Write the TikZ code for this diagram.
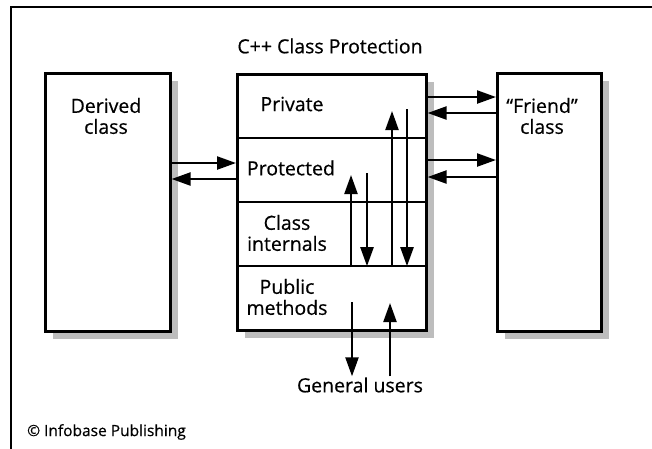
\documentclass[tikz,border=0pt]{standalone}
\usepackage{fontspec}
\setmainfont{Open Sans}[FakeBold=0.5]
\usetikzlibrary{arrows.meta,calc,shadows,positioning}
\definecolor{shadowgray}{HTML}{BDBDBD}
\tikzset{
  box/.style={draw,line width=2.6pt,rectangle,inner sep=0pt,anchor=north west,fill=white},
  shadowed/.style={drop shadow={shadow xshift=8pt,shadow yshift=-8pt,fill=shadowgray,opacity=1}},
  section/.style={draw,line width=2.2pt,rectangle,inner sep=0pt,anchor=north west,minimum width=189pt,minimum height=64pt},
  lbl/.style={font=\fontsize{19.5}{21}\selectfont,align=center,inner sep=1pt},
  arr/.style={line width=2.3pt,-{Triangle[length=19pt,width=13pt]}},
}
\begin{document}
\begin{tikzpicture}[x=1pt,y=-1pt]
\useasboundingbox (0,0) rectangle (652,448);
\draw[line width=2pt] (11,470) -- (11,6.5) -- (680,6.5);

% boxes
\node[box,shadowed,minimum width=125pt,minimum height=258pt] (derived) at (44,72) {};
\node[box,shadowed,minimum width=189pt,minimum height=256pt] (cls) at (236,73) {};
\node[box,shadowed,minimum width=104pt,minimum height=258pt] (friend) at (496,72) {};

\node[section] (priv) at (236,73) {};
\node[section] (prot) at (236,137) {};
\node[section] (intl) at (236,201) {};
\node[section] (pub) at (236,265) {};
\node[box,fill=none,minimum width=189pt,minimum height=256pt] (clsb) at (236,73) {};

% labels
\node[lbl] (title) at (330,46) {C++ Class Protection};
\node[lbl] (tder) at (106,116) {Derived\\class};
\node[lbl] (tfr) at (542,116) {“Friend”\\class};
\node[lbl] (tpriv) at (292,104) {Private};
\node[lbl] (tprot) at (291,168) {Protected};
\node[lbl] (tintl) at (287,233) {Class\\internals};
\node[lbl] (tpub) at (287,297) {Public\\methods};
\node[lbl] (users) at (360,385) {General users};
\node[font=\fontsize{15.5}{17}\selectfont,anchor=west,inner sep=0pt] (copy) at (27,432) {© Infobase Publishing};

% derived <-> protected
\coordinate (dp1) at (236,163);
\coordinate (dp2) at (169,179);
\draw[arr] (derived.east |- dp1) -- (prot.west |- dp1);
\draw[arr] (prot.west |- dp2) -- (derived.east |- dp2);

% class <-> friend
\coordinate (f1) at (425,97);
\coordinate (f2) at (425,113);
\coordinate (f3) at (425,160);
\coordinate (f4) at (425,177);
\draw[arr] (cls.east |- f1) -- (friend.west |- f1);
\draw[arr] (friend.west |- f2) -- (cls.east |- f2);
\draw[arr] (cls.east |- f3) -- (friend.west |- f3);
\draw[arr] (friend.west |- f4) -- (cls.east |- f4);

% inner arrows
\coordinate (u1) at (351,175);
\coordinate (d1) at (367,173);
\coordinate (u2) at (392,111);
\coordinate (d2) at (407,109);
\draw[arr] (u1 |- intl.south) -- (u1);
\draw[arr] (d1) -- ([yshift=1pt]d1 |- intl.south);
\draw[arr] (u2 |- intl.south) -- (u2);
\draw[arr] (d2) -- ([yshift=1pt]d2 |- intl.south);

% public <-> users
\coordinate (d3) at (352,302);
\coordinate (u3) at (390,303);
\draw[arr] (d3) -- (d3 |- users.north);
\draw[arr] (u3 |- users.north) -- (u3);
\end{tikzpicture}
\end{document}
